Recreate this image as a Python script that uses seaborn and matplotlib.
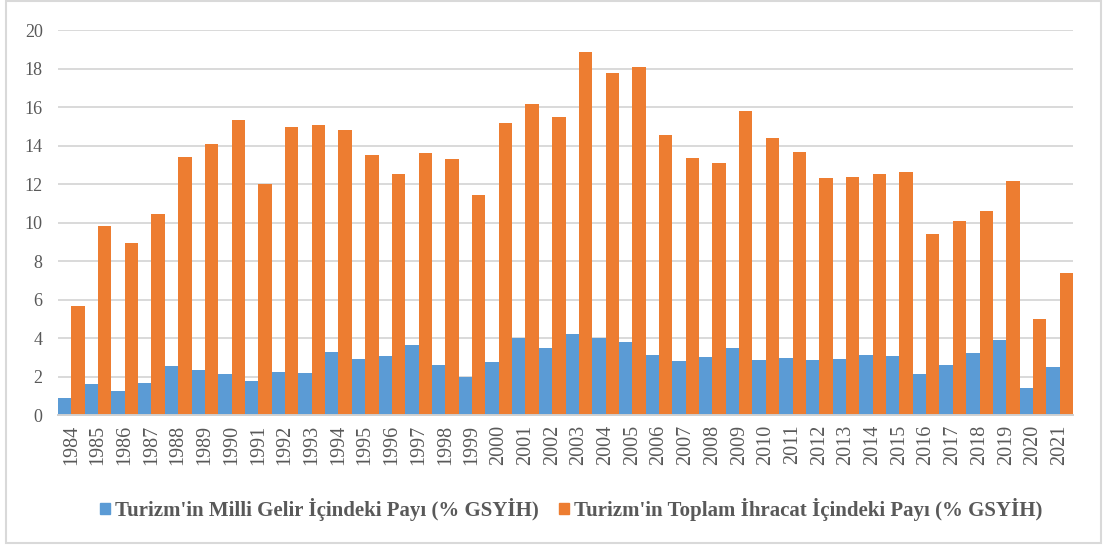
import matplotlib
matplotlib.use("Agg")
import matplotlib.pyplot as plt
import matplotlib.patches as mpatches
import pandas as pd
import seaborn as sns

years = list(range(1984, 2022))
gelir_payi = [0.88, 1.59, 1.23, 1.66, 2.56, 2.35, 2.11, 1.75, 2.25, 2.16,
              3.27, 2.89, 3.08, 3.65, 2.58, 1.99, 2.75, 4.00, 3.49, 4.20,
              3.98, 3.77, 3.11, 2.82, 3.01, 3.49, 2.87, 2.96, 2.84, 2.89,
              3.11, 3.06, 2.13, 2.60, 3.20, 3.91, 1.38, 2.51]
ihracat_payi = [5.67, 9.81, 8.96, 10.43, 13.39, 14.07, 15.31, 12.02, 14.98, 15.05,
                14.79, 13.53, 12.51, 13.62, 13.29, 11.44, 15.17, 16.18, 15.47, 18.88,
                17.77, 18.06, 14.57, 13.37, 13.11, 15.81, 14.38, 13.67, 12.34, 12.35,
                12.54, 12.65, 9.39, 10.09, 10.61, 12.16, 4.98, 7.37]
series_names = ["Turizm'in Milli Gelir İçindeki Payı (% GSYİH)",
                "Turizm'in Toplam İhracat İçindeki Payı (% GSYİH)"]
colors = ["#5B9BD5", "#ED7D31"]
y_ticks = list(range(0, 21, 2))

df = pd.DataFrame({
    "year": [str(y) for y in years] * 2,
    "value": gelir_payi + ihracat_payi,
    "series": [series_names[0]] * len(years) + [series_names[1]] * len(years),
})

sns.set_theme(style="white")
plt.rcParams["font.family"] = ["Liberation Serif", "DejaVu Serif"]

fig = plt.figure(figsize=(11.07, 5.47), dpi=100)
ax = fig.add_axes([0.0524, 0.2413, 0.9169, 0.7037])

sns.barplot(data=df, x="year", y="value", hue="series", palette=colors,
            width=1.0, saturation=1, linewidth=0, ax=ax, legend=False)

ax.set_ylim(0, 20)
ax.set_xlim(-0.5, len(years) - 0.5)
ax.set_yticks(y_ticks)
ax.yaxis.grid(True, color="#D9D9D9", linewidth=1.4)
ax.set_axisbelow(True)
for side in ["top", "right", "left"]:
    ax.spines[side].set_visible(False)
ax.spines["bottom"].set_color("#D0D0D0")
ax.spines["bottom"].set_linewidth(1.4)
ax.set_xlabel("")
ax.set_ylabel("")
ax.tick_params(axis="y", length=0, pad=11, labelsize=13, labelcolor="#595959")
ax.tick_params(axis="x", length=0, pad=7, labelsize=14.5, labelcolor="#595959",
               labelrotation=90)

handles = [mpatches.Patch(color=c, label=n) for c, n in zip(colors, series_names)]
fig.legend(handles=handles, loc="center", bbox_to_anchor=(0.516, 0.068), ncol=2,
           frameon=False, handlelength=0.45, handleheight=0.45, handletextpad=0.25,
           columnspacing=1.0,
           prop={"family": ["Liberation Serif"], "weight": "bold", "size": 15},
           labelcolor="#595959")

fig.patches.append(mpatches.Rectangle((0.005, 0.008), 0.99, 0.99,
                                      transform=fig.transFigure, fill=False,
                                      edgecolor="#D9D9D9", linewidth=1.5))

fig.savefig("out.png", dpi=100)
